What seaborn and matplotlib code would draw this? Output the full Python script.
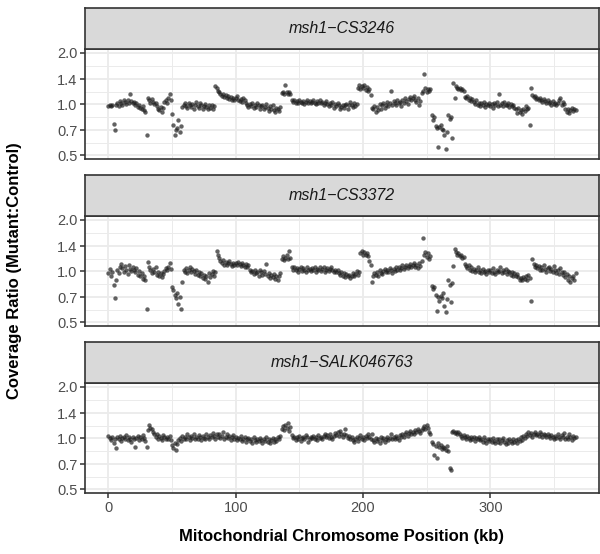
import numpy as np
import pandas as pd
import seaborn as sns
import matplotlib.pyplot as plt
from matplotlib.ticker import NullFormatter

# coverage ratio per 1 kb window
panels = ["msh1\u2212CS3246", "msh1\u2212CS3372", "msh1\u2212SALK046763"]

ratio_cs3246 = [
    0.97, 0.98, 0.97, 0.98, 0.76, 0.70, 0.99, 1.02, 0.97, 1.04, 1.01, 0.99, 1.05, 1.03, 1.00, 1.06, 1.02, 1.14, 1.04, 1.01,
    1.03, 0.99, 1.02, 0.96, 0.98, 0.95, 0.93, 0.97, 0.92, 0.90, 0.66, 1.08, 1.05, 1.02, 1.07, 1.03, 1.00, 1.02, 0.97, 0.94,
    0.92, 0.96, 0.90, 0.95, 1.03, 1.06, 1.01, 1.08, 1.14, 1.05, 0.87, 0.75, 0.66, 0.70, 0.72, 0.81, 0.68, 0.74, 0.96, 0.99,
    1.01, 0.97, 0.95, 1.02, 0.98, 0.96, 1.00, 0.94, 0.99, 1.03, 0.97, 0.95, 1.01, 0.98, 0.93, 0.97, 1.00, 0.96, 0.94, 0.99,
    0.95, 0.98, 0.93, 0.97, 1.27, 1.24, 1.20, 1.17, 1.15, 1.12, 1.14, 1.10, 1.13, 1.08, 1.11, 1.07, 1.10, 1.06, 1.09, 1.05,
    1.08, 1.12, 1.06, 1.04, 1.07, 1.03, 1.09, 1.05, 1.02, 0.98, 0.96, 1.00, 0.97, 1.02, 0.95, 0.99, 0.96, 1.01, 0.98, 0.94,
    0.97, 0.99, 0.93, 0.96, 1.00, 0.95, 0.91, 0.97, 0.94, 0.98, 0.92, 0.90, 0.95, 0.93, 0.91, 0.96, 1.16, 1.18, 1.15, 1.29,
    1.17, 1.14, 1.18, 1.15, 1.05, 1.03, 1.06, 1.02, 1.04, 1.01, 1.05, 1.03, 1.02, 1.04, 1.00, 1.03, 1.05, 1.02, 1.04, 1.01,
    1.03, 1.06, 1.02, 1.00, 1.04, 1.02, 1.05, 1.01, 1.03, 0.99, 1.02, 1.04, 1.00, 0.97, 1.02, 0.99, 1.03, 0.95, 1.00, 0.97,
    1.02, 0.98, 0.93, 0.96, 0.99, 0.95, 0.98, 1.00, 0.94, 0.98, 1.03, 0.99, 0.96, 1.01, 0.97, 1.00, 1.25, 1.29, 1.22, 1.27,
    1.24, 1.30, 1.21, 1.26, 1.19, 1.23, 1.13, 0.95, 0.93, 0.97, 0.90, 0.96, 0.92, 1.00, 0.94, 0.98, 1.02, 0.95, 0.99, 1.03,
    0.97, 1.01, 1.20, 0.99, 1.04, 1.02, 0.98, 1.05, 1.01, 1.03, 0.97, 1.06, 1.02, 1.08, 1.04, 1.00, 1.07, 1.10, 1.05, 1.09,
    1.11, 1.06, 1.03, 1.08, 0.99, 1.04, 1.16, 1.20, 1.51, 1.24, 1.17, 1.22, 1.19, 1.23, 0.86, 0.81, 0.84, 0.74, 0.72, 0.56,
    0.73, 0.75, 0.71, 0.70, 0.66, 0.54, 0.68, 0.86, 0.82, 0.84, 0.63, 1.33, 1.09, 1.27, 1.24, 1.22, 1.25, 1.21, 1.23, 1.19,
    1.10, 1.08, 1.12, 1.06, 1.09, 1.04, 1.07, 1.03, 1.00, 1.05, 0.99, 1.02, 0.97, 1.01, 0.98, 1.03, 0.96, 1.00, 0.98, 1.02,
    0.97, 1.00, 0.95, 1.01, 0.99, 1.03, 0.97, 1.14, 0.99, 1.01, 0.97, 1.03, 0.99, 0.98, 1.02, 0.96, 1.00, 0.97, 0.99, 0.95,
    0.93, 0.88, 0.95, 0.90, 0.92, 0.87, 0.94, 0.91, 0.97, 0.93, 0.95, 0.75, 1.24, 1.13, 1.10, 1.12, 1.07, 1.09, 1.05, 1.08,
    1.06, 1.03, 1.07, 1.04, 1.02, 1.05, 1.01, 1.03, 0.99, 1.04, 1.00, 1.02, 0.98, 1.01, 1.05, 1.08, 0.99, 1.03, 1.00, 0.93,
    0.90, 0.94, 0.88, 0.92, 0.95, 0.91, 0.93, 0.92,
]

ratio_cs3372 = [
    0.97, 1.03, 0.93, 0.98, 0.83, 0.69, 0.88, 1.02, 0.97, 1.06, 1.10, 1.04, 0.99, 1.07, 1.01, 0.96, 1.08, 1.03, 1.00, 1.06,
    1.02, 0.98, 1.04, 0.95, 1.00, 0.93, 0.97, 0.90, 0.94, 0.88, 0.60, 1.13, 1.05, 1.01, 0.97, 1.03, 0.99, 1.06, 0.95, 0.98,
    0.93, 0.97, 0.92, 0.96, 1.00, 1.04, 1.02, 1.06, 1.11, 1.03, 0.80, 0.77, 0.72, 0.69, 0.74, 0.64, 0.70, 0.60, 0.86, 1.02,
    0.99, 1.04, 0.97, 1.01, 1.06, 0.98, 1.03, 1.00, 0.96, 1.02, 0.95, 0.98, 0.93, 0.97, 0.91, 0.95, 0.90, 0.94, 0.86, 0.97,
    0.92, 0.96, 1.00, 0.94, 0.98, 1.32, 1.24, 1.19, 1.15, 1.12, 1.16, 1.09, 1.13, 1.08, 1.11, 1.14, 1.10, 1.07, 1.12, 1.09,
    1.11, 1.08, 1.13, 1.10, 1.07, 1.12, 1.09, 1.06, 1.10, 1.05, 1.08, 1.02, 0.98, 1.00, 0.96, 1.01, 0.97, 0.99, 0.94, 1.02,
    0.98, 0.95, 1.00, 0.96, 1.10, 0.93, 0.97, 0.91, 0.95, 0.92, 0.96, 0.90, 0.94, 0.89, 0.93, 0.97, 1.18, 1.22, 1.16, 1.20,
    1.24, 1.17, 1.32, 1.19, 1.05, 1.02, 1.06, 1.01, 1.04, 0.99, 1.03, 1.05, 1.00, 1.04, 1.02, 0.99, 1.05, 1.01, 1.03, 1.00,
    1.04, 1.02, 1.06, 0.99, 1.03, 1.01, 1.05, 1.00, 1.03, 1.06, 0.99, 1.02, 1.04, 1.00, 1.03, 1.05, 1.01, 0.98, 1.02, 0.99,
    1.01, 0.97, 0.95, 0.99, 0.94, 0.97, 0.92, 0.96, 0.93, 0.95, 0.91, 0.94, 0.97, 0.93, 0.96, 1.00, 0.95, 0.99, 1.28, 1.31,
    1.25, 1.29, 1.24, 1.27, 1.22, 1.15, 1.08, 0.86, 0.93, 0.97, 0.95, 0.99, 0.94, 1.01, 0.97, 0.96, 1.00, 1.03, 0.98, 1.02,
    0.99, 1.04, 1.01, 0.97, 1.03, 1.00, 1.05, 1.02, 1.06, 1.01, 1.04, 1.08, 1.03, 1.06, 1.09, 1.04, 1.07, 1.10, 1.05, 1.08,
    1.11, 1.06, 1.09, 1.04, 1.12, 1.07, 1.15, 1.57, 1.24, 1.30, 1.21, 1.27, 1.18, 1.23, 0.82, 0.78, 0.80, 0.72, 0.58, 0.70,
    0.67, 0.71, 0.69, 0.74, 0.62, 0.57, 0.68, 0.88, 0.83, 0.66, 0.85, 1.07, 1.34, 1.29, 1.25, 1.27, 1.22, 1.24, 1.19, 1.21,
    1.10, 1.07, 1.04, 1.08, 1.02, 1.05, 1.00, 1.03, 0.98, 1.02, 1.06, 0.99, 1.01, 0.97, 1.03, 0.99, 1.00, 0.96, 1.02, 0.98,
    1.01, 0.97, 1.04, 0.99, 0.96, 1.02, 0.98, 1.00, 1.05, 0.97, 1.01, 0.99, 1.03, 0.96, 1.00, 0.98, 0.95, 0.99, 0.94, 0.97,
    0.93, 0.96, 0.92, 0.89, 0.91, 0.88, 0.92, 0.90, 0.93, 0.89, 0.95, 0.91, 0.67, 1.18, 1.10, 1.06, 1.09, 1.04, 1.07, 1.02,
    1.05, 1.01, 1.08, 1.03, 0.99, 1.04, 1.06, 1.00, 1.03, 0.98, 1.07, 1.02, 0.97, 1.01, 0.96, 1.04, 0.99, 0.95, 0.98, 0.92,
    0.96, 0.89, 0.93, 0.86, 0.91, 0.94, 0.88, 0.97,
]

ratio_salk046763 = [
    1.03, 1.00, 0.97, 1.02, 0.94, 0.99, 0.87, 1.01, 0.98, 1.03, 0.96, 1.00, 1.02, 0.98, 1.04, 0.97, 1.01, 0.99, 0.95, 1.02,
    0.98, 0.88, 1.00, 1.03, 0.97, 1.01, 0.99, 1.04, 1.00, 0.96, 0.88, 1.12, 1.19, 1.15, 1.13, 1.08, 1.05, 1.02, 1.06, 0.99,
    1.03, 1.00, 0.97, 1.04, 1.01, 0.98, 1.02, 0.99, 1.03, 0.97, 0.91, 0.87, 0.93, 0.85, 0.92, 0.97, 1.00, 0.96, 1.03, 0.99,
    1.02, 0.98, 1.05, 1.01, 0.97, 1.03, 1.00, 1.06, 0.98, 1.02, 0.99, 1.04, 1.01, 0.97, 1.03, 1.00, 0.98, 1.05, 1.02, 0.99,
    1.04, 1.01, 1.07, 1.03, 0.99, 1.05, 1.02, 1.06, 1.00, 1.03, 1.08, 0.98, 1.02, 1.05, 1.00, 1.03, 0.97, 1.01, 1.04, 0.99,
    1.02, 0.97, 1.00, 0.98, 1.03, 0.96, 0.99, 1.01, 0.95, 0.98, 1.00, 0.96, 0.99, 0.94, 1.01, 0.97, 0.95, 0.99, 0.96, 1.00,
    0.97, 0.94, 0.99, 0.96, 1.01, 0.95, 0.98, 0.93, 0.97, 1.00, 0.95, 0.98, 0.96, 1.01, 0.99, 1.03, 1.13, 1.17, 1.11, 1.19,
    1.14, 1.22, 1.10, 1.16, 1.04, 1.00, 1.02, 0.97, 1.01, 0.99, 1.03, 0.96, 1.00, 1.02, 0.98, 1.04, 1.01, 0.95, 0.99, 1.02,
    1.00, 1.03, 0.98, 1.01, 0.97, 1.04, 1.00, 1.02, 0.99, 1.03, 1.05, 1.01, 1.04, 1.00, 1.06, 1.02, 0.99, 1.03, 1.07, 1.04,
    1.08, 1.03, 1.10, 1.05, 1.01, 1.06, 1.13, 1.04, 1.00, 1.03, 0.98, 1.01, 0.97, 0.95, 0.99, 1.02, 0.96, 1.00, 1.04, 0.98,
    1.01, 0.97, 1.03, 1.00, 1.06, 1.02, 0.99, 1.05, 0.97, 0.95, 1.00, 0.96, 0.99, 0.94, 1.02, 0.97, 1.00, 0.95, 0.98, 1.01,
    0.97, 1.00, 1.05, 0.98, 1.02, 0.99, 1.03, 1.00, 0.97, 1.04, 1.01, 1.06, 1.02, 1.05, 1.08, 1.03, 1.07, 1.10, 1.05, 1.09,
    1.06, 1.11, 1.08, 1.13, 1.10, 1.07, 1.12, 1.15, 1.18, 1.13, 1.19, 1.14, 1.09, 1.06, 0.95, 0.92, 0.79, 0.90, 0.76, 0.93,
    0.88, 0.91, 0.86, 0.89, 0.87, 0.85, 0.90, 0.84, 0.67, 0.65, 1.08, 1.10, 1.07, 1.09, 1.05, 1.08, 1.06, 1.03, 1.00, 1.04,
    1.01, 0.98, 1.03, 1.00, 0.97, 1.02, 0.99, 1.01, 0.96, 1.00, 0.98, 1.02, 0.97, 0.99, 0.95, 1.01, 0.97, 0.94, 0.99, 0.96,
    0.98, 0.95, 1.00, 0.96, 0.93, 0.98, 0.95, 0.99, 0.94, 0.97, 1.00, 0.95, 0.92, 0.97, 0.94, 0.99, 0.96, 0.93, 0.98, 0.95,
    0.97, 0.94, 0.99, 0.96, 1.01, 0.97, 1.03, 1.00, 1.06, 1.03, 1.08, 1.04, 1.07, 1.02, 1.05, 1.09, 1.04, 1.06, 1.03, 1.08,
    1.05, 1.02, 1.06, 1.04, 1.01, 1.05, 1.03, 1.00, 1.04, 1.02, 0.98, 1.03, 1.00, 1.06, 1.02, 0.99, 1.04, 1.01, 1.07, 0.98,
    1.02, 0.99, 1.05, 1.01, 0.97, 1.03, 1.00, 1.02,
]

y_ticks = [0.5, 0.7, 1.0, 1.4, 2.0]
x_ticks = [0, 100, 200, 300]

frames = []
for name, vals in zip(panels, [ratio_cs3246, ratio_cs3372, ratio_salk046763]):
    frames.append(pd.DataFrame({"panel": name, "pos": np.arange(len(vals)), "ratio": vals}))
df = pd.concat(frames, ignore_index=True)

sns.set_style("white")
plt.rcParams["font.family"] = ["Liberation Sans", "DejaVu Sans"]

W, H = 600, 554
fig = plt.figure(figsize=(6, 5.54), dpi=100)

left, right = 85, 599
plot_h, strip_h = 110, 41
plot_tops = [49, 216, 383]

minor_y = [np.sqrt(a * b) for a, b in zip(y_ticks[:-1], y_ticks[1:])]

for i, name in enumerate(panels):
    top = plot_tops[i]
    ax = fig.add_axes([left / W, (H - top - plot_h) / H, (right - left) / W, plot_h / H])
    sns.scatterplot(data=df[df["panel"] == name], x="pos", y="ratio", ax=ax,
                    color="#1F1F1F", alpha=0.7, s=10, linewidth=0, legend=False)
    ax.set_yscale("log", base=2)
    ax.set_ylim(0.474, 2.11)
    ax.set_xlim(-18.4, 385.4)
    ax.set_yticks(y_ticks)
    ax.set_yticklabels([f"{t:.1f}" for t in y_ticks])
    ax.set_yticks(minor_y, minor=True)
    ax.yaxis.set_minor_formatter(NullFormatter())
    ax.set_xticks(x_ticks)
    ax.set_xticks([50, 150, 250, 350], minor=True)
    ax.xaxis.set_minor_formatter(NullFormatter())
    ax.grid(True, which="major", color="#EBEBEB", linewidth=1.3)
    ax.grid(True, which="minor", color="#EBEBEB", linewidth=0.7)
    ax.set_axisbelow(True)
    ax.set_facecolor("white")
    for sp in ax.spines.values():
        sp.set_color("#333333")
        sp.set_linewidth(1.2)
    ax.tick_params(axis="both", which="major", length=3.5, width=1.1, color="#333333",
                   labelsize=10.5, labelcolor="#4D4D4D", left=True, bottom=(i == 2), pad=2)
    ax.tick_params(axis="both", which="minor", length=0)
    if i < 2:
        ax.set_xticklabels([])
    ax.set_xlabel("")
    ax.set_ylabel("")

    sax = fig.add_axes([left / W, (H - top) / H, (right - left) / W, strip_h / H])
    sax.set_facecolor("#D9D9D9")
    sax.set_xticks([])
    sax.set_yticks([])
    for sp in sax.spines.values():
        sp.set_color("#333333")
        sp.set_linewidth(1.2)
    sax.text(0.5, 0.5, name, ha="center", va="center", fontsize=11.5,
             style="italic", color="#1A1A1A", transform=sax.transAxes)

fig.text(15 / W, 1 - 271 / H, "Coverage Ratio (Mutant:Control)", rotation=90,
         ha="center", va="center", fontsize=12, fontweight="bold", color="black")
fig.text((left + right) / 2 / W, 1 - 537 / H, "Mitochondrial Chromosome Position (kb)",
         ha="center", va="center", fontsize=12, fontweight="bold", color="black")

plt.savefig("out.png", dpi=100)
plt.close()
